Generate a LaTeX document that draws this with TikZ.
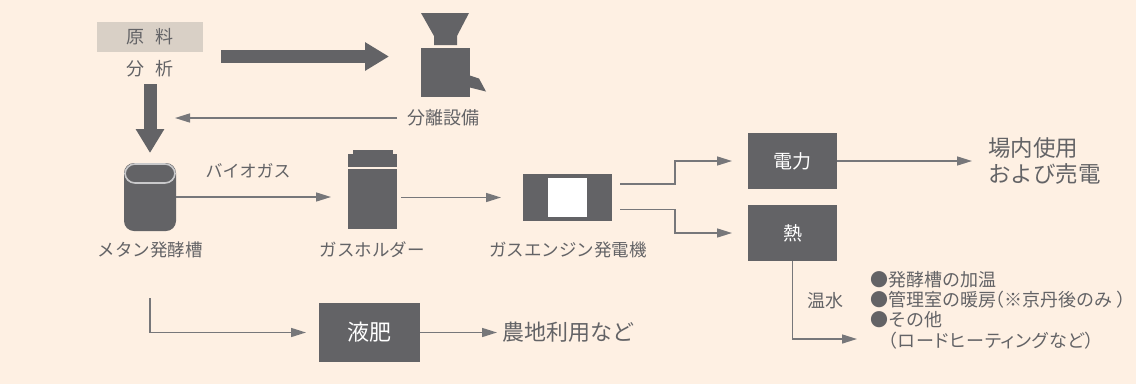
\documentclass[tikz,border=0pt]{standalone}
\usepackage{fontspec}
\setmainfont{Noto Sans CJK JP}
\usepackage{tikz}
\usetikzlibrary{arrows.meta,positioning,calc}
\definecolor{paper}{HTML}{FEF0E3}
\definecolor{ink}{HTML}{636366}
\definecolor{wire}{HTML}{77777A}
\definecolor{tag}{HTML}{D9D0C6}
\definecolor{rim}{HTML}{C9C9CB}
\tikzstyle{solid box}=[fill=ink, inner sep=0pt, outer sep=0pt, text=white]
\tikzstyle{line}=[draw, line width=1.5pt, color=wire, -{Triangle[length=15pt,width=9pt]}]
\tikzstyle{fat line}=[draw, line width=13pt, color=ink, -{Triangle[length=24pt,width=27pt]}]
\tikzstyle{lbl}=[text=ink, inner sep=0pt, font=\fontsize{17.5}{20}\selectfont]
\tikzstyle{big lbl}=[lbl, font=\fontsize{22}{26}\selectfont]
\newcommand{\plant}[5]{node (#1)[solid box, minimum width=#2pt, minimum height=#3pt] at (#4,#5) {}}
\begin{document}
\begin{tikzpicture}[x=1pt,y=-1pt]
	\useasboundingbox[fill=paper] (0,0) rectangle (1136,384);

	% Draw diagram elements
	\node (raw)[fill=tag, text=ink, inner sep=0pt, minimum width=106pt, minimum height=30pt, font=\fontsize{18}{20}\selectfont] at (150,37) {原\hspace{11pt}料};
	\node (assay)[lbl, font=\fontsize{18}{20}\selectfont] at (150,69) {分\hspace{11pt}析};

	% separator
	\path \plant{sep}{49}{49}{445.5}{72.5};
	\fill[ink] (421,13) -- (469,13) -- (457,36) -- (457,45) -- (434,45) -- (434,36) -- cycle;
	\fill[ink] (sep.east) ++(0,3) -- ++(9,3) -- ++(7,13) -- ++(-16,-4) -- cycle;
	\node (seplbl)[lbl, font=\fontsize{18}{20}\selectfont] at (443,118) {分離設備};

	% digester
	\node (tank)[solid box, rounded corners=10pt, minimum width=52pt, minimum height=68pt] at (150,197) {};
	\node (tanktop)[solid box, draw=rim, line width=1.6pt, rounded corners=10pt, minimum width=50pt, minimum height=19pt] at (150,173.5) {};
	\node (tanklbl)[lbl] at (150,250) {メタン発酵槽};
	\node (gaslbl)[lbl, font=\fontsize{17}{20}\selectfont] at (248,171) {バイオガス};

	% holder
	\path \plant{holder}{49}{60}{372.5}{199};
	\path \plant{holdcap}{49}{13}{372.5}{160.5};
	\path \plant{holdlid}{40}{4}{372.5}{152};
	\node (holdlbl)[lbl] at (372,250) {ガスホルダー};

	% engine
	\path \plant{engine}{89}{47}{567.5}{197.5};
	\node (window)[fill=white, inner sep=0pt, minimum width=39pt, minimum height=39pt] at (567.5,197.5) {};
	\node (enginelbl)[lbl] at (568,250) {ガスエンジン発電機};

	% outputs
	\node (power)[solid box, minimum width=89pt, minimum height=56pt, font=\fontsize{19}{20}\selectfont] at (792.5,161) {電力};
	\node (heat)[solid box, minimum width=89pt, minimum height=56pt, font=\fontsize{19}{20}\selectfont] at (792.5,233) {熱};
	\node (sale)[big lbl, anchor=west, align=left, font=\fontsize{22.5}{26}\selectfont] at (988,161) {場内使用\\および売電};
	\node (water)[lbl, font=\fontsize{18}{20}\selectfont] at (825,301) {温水};
	\node (uses)[lbl, anchor=west, align=left, font=\fontsize{18}{20.3}\selectfont] at (870,310) {●発酵槽の加温\\●管理室の暖房\hspace{-10pt}（※京丹後のみ\hspace{4pt}）\\●その他\\\hspace{18pt}{\addfontfeature{RawFeature=+palt,LetterSpace=4}（ロードヒーティングなど）}};

	% liquid fertilizer
	\node (liquid)[solid box, minimum width=101pt, minimum height=59pt, font=\fontsize{22}{26}\selectfont] at (369.5,332.5) {液肥};
	\node (farm)[big lbl, anchor=west] at (502,332.5) {農地利用など};

	% free line ends
	\coordinate (fatA) at (221,56.5);
	\coordinate (fatB) at (389,56.5);
	\coordinate (fatC) at (150,84);
	\coordinate (fatD) at (150,153);
	\coordinate (back) at (175,118);
	\coordinate (sepout) at (397,118);
	\coordinate (drain) at (150,298);
	\coordinate (engoutA) at (620,184);
	\coordinate (engoutB) at (620,209.5);

	% Draw arrows between elements
	\path [fat line] (fatA) -- (fatB);
	\path [fat line] (fatC) -- (fatD);
	\path [line] (sepout) -- (back);
	\path [line, shorten >=17pt] (tank.east) -- (tank.east -| holder.west);
	\path [line, shorten <=4pt, shorten >=22pt] (holder.east |- engine.west) -- (engine.west);
	\path [line, shorten >=16pt] (engoutA) -- ++(55,0) |- (power.west);
	\path [line, shorten >=16pt] (engoutB) -- ++(55,0) |- (heat.west);
	\path [line, shorten >=16pt] (power.east) -- (sale.west);
	\path [line] (heat.south) |- ($(uses.west |- 0,339)+(-13,0)$);
	\path [line, shorten >=13pt] (drain) |- (liquid.west);
	\path [line, shorten >=5pt] (liquid.east) -- (farm.west);
\end{tikzpicture}
\end{document}
